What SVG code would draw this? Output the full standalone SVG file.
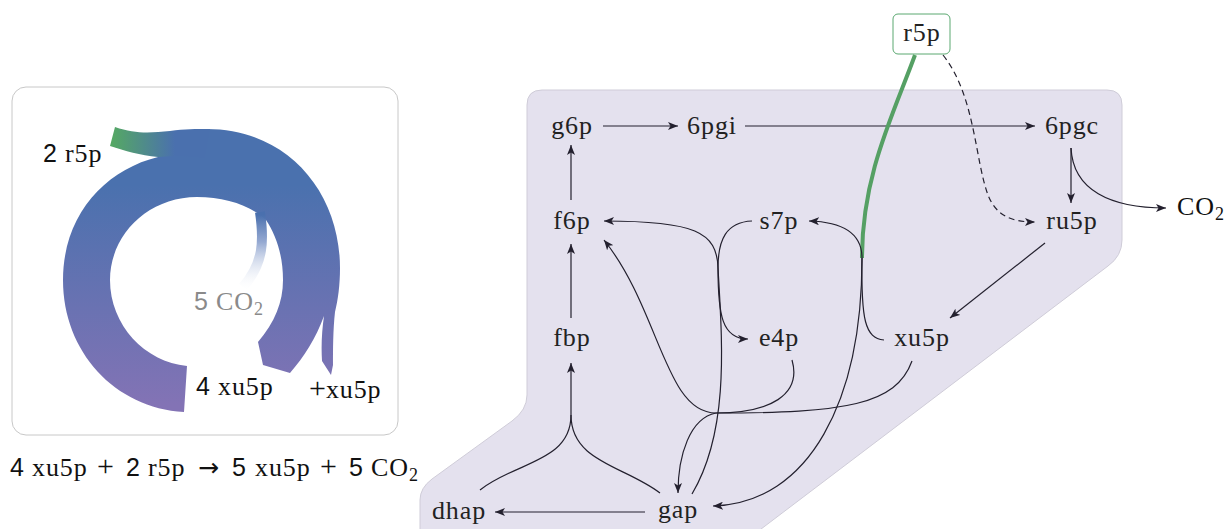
<svg xmlns="http://www.w3.org/2000/svg" width="1230" height="529" viewBox="0 0 1230 529">
<defs>
<style>
.lbl{font-family:"Liberation Serif","DejaVu Serif",serif;font-size:26px;letter-spacing:0.9px;fill:#222;text-anchor:middle}
.txt{font-family:"Liberation Serif","DejaVu Serif",serif;font-size:26px;letter-spacing:0.9px;fill:#111}
.sf{font-family:"Liberation Sans","DejaVu Sans",sans-serif;font-size:25px;letter-spacing:0}
.sub{font-size:18px;letter-spacing:0}
.op{font-size:30px;letter-spacing:0}
.arr{font-family:"DejaVu Sans",sans-serif;font-size:25px;letter-spacing:0}
.e{fill:none;stroke:#23202e;stroke-width:1.2}
.a{marker-end:url(#ah)}
</style>
<marker id="ah" viewBox="0 0 10 8" refX="10" refY="4" markerWidth="10" markerHeight="8" markerUnits="userSpaceOnUse" orient="auto">
<path d="M0,0 L10,4 L0,8 L2.5,4 Z" fill="#23202e"/>
</marker>
<linearGradient id="ring" gradientUnits="userSpaceOnUse" x1="0" y1="185" x2="0" y2="405">
<stop offset="0" stop-color="#4a71ae"/>
<stop offset="1" stop-color="#8373b5"/>
</linearGradient>
<linearGradient id="grn" gradientUnits="userSpaceOnUse" x1="112" y1="0" x2="175" y2="0">
<stop offset="0" stop-color="#55a864"/>
<stop offset="1" stop-color="#4a70ae"/>
</linearGradient>
<linearGradient id="co2" gradientUnits="userSpaceOnUse" x1="0" y1="215" x2="0" y2="292">
<stop offset="0" stop-color="#4a70ae" stop-opacity="1"/>
<stop offset="0.35" stop-color="#7a93c6" stop-opacity="0.8"/>
<stop offset="1" stop-color="#ffffff" stop-opacity="0"/>
</linearGradient>
</defs>

<!-- background panels -->
<g id="left-panel">
<rect x="12" y="87" width="386" height="348" rx="14" fill="#ffffff" stroke="#c8c8c8" stroke-width="1"/>
</g>
<g id="pathway-area">
<path d="M420,545 L420,500 Q420,488 432,479 L512,421 Q527,410 527,395 L527,105 Q527,90 542,90 L1107,90 Q1122,90 1122,105 L1122,240 Q1122,256 1108,266 L740,545 Z" fill="#e4e1ee" stroke="#cfccd8" stroke-width="1"/>
</g>

<!-- ring diagram -->
<g id="ring-diagram">
<path d="M184,412 C115,408 63,352 63,280 C63,215 105,170 158,157 C172,140 186,130 205,129 C285,128 340,190 340,268 C340,285 338,300 335,312 C333,330 333,350 333,365 L331,375 L322,361 C321,345 322,330 324,316 C316,338 304,357 290,373 L263,365 L258,342 C275,322 283,302 283,280 C283,255 276,235 266,220 C250,205 225,197 197,197 C148,197 110,235 110,280 C110,325 145,362 187,366 Z" fill="url(#ring)"/>
<path d="M115,127 C135,134 150,133 170,131 C185,129 195,129 210,129 L205,158 C185,156 170,156 158,157 C140,155 125,151 110,146 Z" fill="url(#grn)"/>
<path d="M260,212 C264,240 264,263 243,287" fill="none" stroke="url(#co2)" stroke-width="10"/>
<text class="txt" y="162"><tspan class="sf" x="43">2</tspan><tspan x="65">r5p</tspan></text>
<text class="txt" y="310" style="fill:#8a8a8a"><tspan class="sf" x="194">5</tspan><tspan x="216">CO</tspan><tspan class="sub" dy="5">2</tspan></text>
<text class="txt" y="395"><tspan class="sf" x="196">4</tspan><tspan x="218">xu5p</tspan></text>
<text class="txt" y="398"><tspan class="op" x="309">+</tspan><tspan>xu5p</tspan></text>
</g>
<g id="equation">
<text class="txt" y="476"><tspan class="sf" x="10">4</tspan><tspan x="32">xu5p</tspan><tspan class="op" x="97">+</tspan><tspan class="sf" x="126">2</tspan><tspan x="148">r5p</tspan><tspan class="arr" x="198">→</tspan><tspan class="sf" x="232">5</tspan><tspan x="255">xu5p</tspan><tspan class="op" x="320">+</tspan><tspan class="sf" x="349">5</tspan><tspan x="371">CO</tspan><tspan class="sub" dy="5">2</tspan></text>
</g>

<!-- connectors -->
<g id="connectors">
<path class="e a" d="M603,126 L678,126"/>
<path class="e a" d="M745,126 L1035,126"/>
<path class="e a" d="M571,200 L571,145"/>
<path class="e a" d="M571,318 L571,244"/>
<path class="e a" d="M1071,148 L1071,203"/>
<path class="e a" d="M1071,148 C1073,190 1110,208 1166,208"/>
<path class="e a" d="M943,55 C975,95 975,160 988,195 C996,215 1010,222 1035,222" stroke-dasharray="6,4"/>
<path d="M915,55 C893,115 862,175 862,258" fill="none" stroke="#55a064" stroke-width="4"/>
<path class="e a" d="M862,258 C862,235 845,222 809,221"/>
<path class="e" d="M884,340 C865,338 861,320 862,258"/>
<path class="e a" d="M862,258 C862,400 810,503 713,506"/>
<path class="e" d="M752,221 C726,222 718,240 718,268"/>
<path class="e a" d="M718,268 C717,232 695,221 604,221"/>
<path class="e a" d="M718,268 C718,315 722,339 748,339"/>
<path class="e" d="M718,268 C722,340 730,430 692,494"/>
<path class="e" d="M792,360 C802,395 770,413 716,413"/>
<path class="e" d="M912,361 C896,405 845,413 716,413"/>
<path class="e a" d="M716,413 C665,413 660,310 604,240"/>
<path class="e a" d="M716,413 C690,418 678,455 678,493"/>
<path class="e" d="M480,490 C515,462 571,462 571,415"/>
<path class="e" d="M660,493 C625,466 571,462 571,415"/>
<path class="e a" d="M571,415 L571,363"/>
<path class="e a" d="M645,512 L495,512"/>
<path class="e a" d="M1045,243 L950,318"/>
</g>

<!-- nodes -->
<g id="node-r5p">
<rect x="893" y="14" width="57" height="40" rx="5" fill="#ffffff" stroke="#5aa870" stroke-width="1"/>
<text class="lbl" x="922" y="41">r5p</text>
</g>
<g id="node-g6p"><text class="lbl" x="572" y="134">g6p</text></g>
<g id="node-6pgi"><text class="lbl" x="712" y="134">6pgi</text></g>
<g id="node-6pgc"><text class="lbl" x="1072" y="134">6pgc</text></g>
<g id="node-f6p"><text class="lbl" x="572" y="229">f6p</text></g>
<g id="node-s7p"><text class="lbl" x="779" y="229">s7p</text></g>
<g id="node-ru5p"><text class="lbl" x="1072" y="229">ru5p</text></g>
<g id="node-co2"><text class="txt" x="1177" y="215">CO<tspan class="sub" dy="5">2</tspan></text></g>
<g id="node-fbp"><text class="lbl" x="572" y="346">fbp</text></g>
<g id="node-e4p"><text class="lbl" x="779" y="346">e4p</text></g>
<g id="node-xu5p"><text class="lbl" x="922" y="346">xu5p</text></g>
<g id="node-dhap"><text class="lbl" x="459" y="519">dhap</text></g>
<g id="node-gap"><text class="lbl" x="678" y="518">gap</text></g>
</svg>
